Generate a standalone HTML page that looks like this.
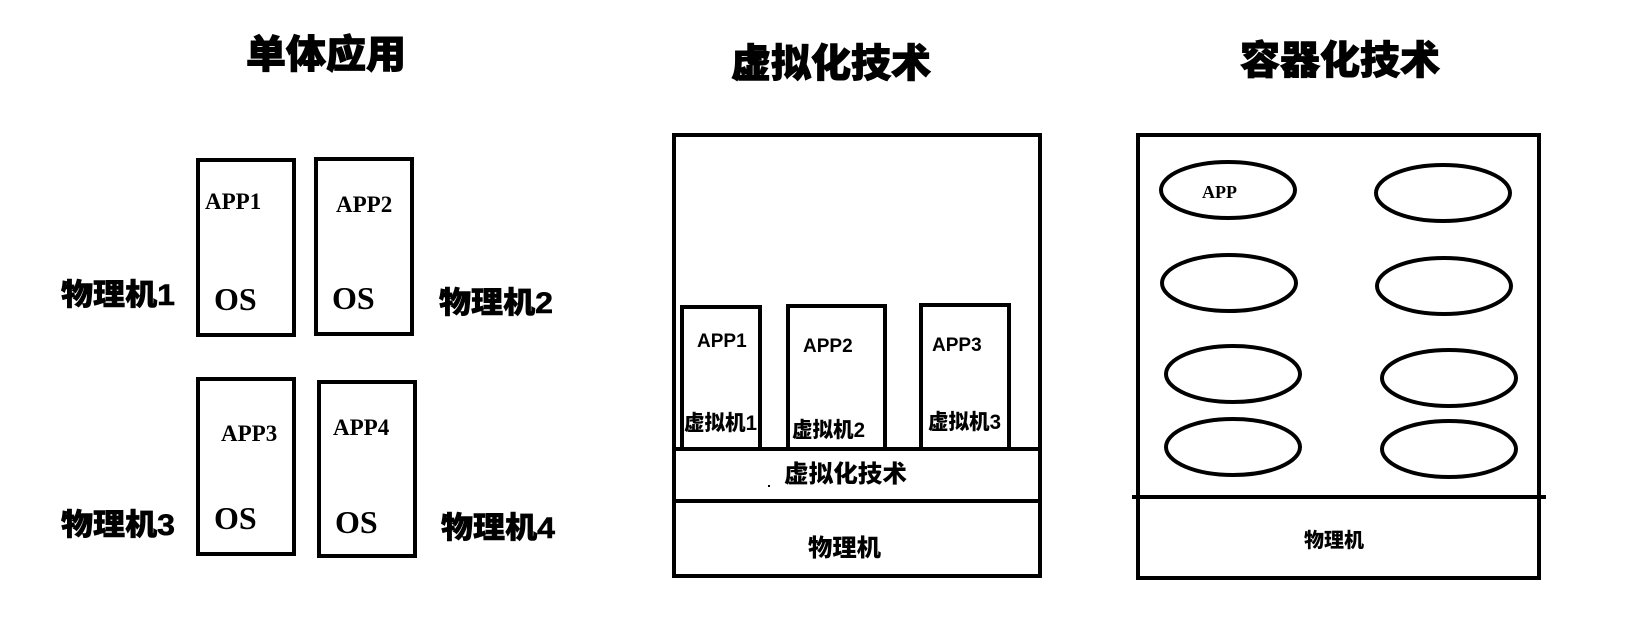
<!DOCTYPE html>
<html><head><meta charset="utf-8"><style>
html,body{margin:0;padding:0;background:#fff;}
svg{display:block;}
.t{font-family:"Liberation Sans","Noto Sans CJK SC",sans-serif;font-weight:900;}
.s{font-family:"Liberation Serif","Noto Serif CJK SC",serif;font-weight:bold;}
.c{font-family:"Liberation Sans","Noto Sans CJK SC",sans-serif;font-weight:bold;}
</style></head><body>
<svg width="1640" height="619" viewBox="0 0 1640 619" xmlns="http://www.w3.org/2000/svg">
<g fill="none" stroke="#000" stroke-width="4">
<rect x="198" y="160" width="96" height="175"/>
<rect x="316" y="159" width="96" height="175"/>
<rect x="198" y="379" width="96" height="175"/>
<rect x="319" y="382" width="96" height="174"/>
<rect x="674" y="135" width="366" height="441"/>
<line x1="672" y1="449" x2="1042" y2="449"/>
<line x1="672" y1="501" x2="1042" y2="501"/>
<rect x="682" y="307" width="78" height="142"/>
<rect x="788" y="306" width="97" height="143"/>
<rect x="921" y="305" width="88" height="144"/>
<rect x="1138" y="135" width="401" height="443"/>
<line x1="1132" y1="497" x2="1546" y2="497"/>
<ellipse cx="1228" cy="190" rx="67" ry="28"/>
<ellipse cx="1443" cy="193" rx="67" ry="28"/>
<ellipse cx="1229" cy="283" rx="67" ry="28"/>
<ellipse cx="1444" cy="286" rx="67" ry="28"/>
<ellipse cx="1233" cy="374" rx="67" ry="28"/>
<ellipse cx="1449" cy="378" rx="67" ry="28"/>
<ellipse cx="1233" cy="447" rx="67" ry="28"/>
<ellipse cx="1449" cy="449" rx="67" ry="28"/>
</g>
<g class="t" font-size="39" fill="#000" stroke="#000" stroke-width="1">
<text x="246" y="68" textLength="160" lengthAdjust="spacingAndGlyphs">单体应用</text>
<text x="731" y="77" textLength="200" lengthAdjust="spacingAndGlyphs">虚拟化技术</text>
<text x="1240" y="74" textLength="200" lengthAdjust="spacingAndGlyphs">容器化技术</text>
</g>
<g class="s" font-size="23">
<text x="205" y="209">APP1</text>
<text x="336" y="212">APP2</text>
<text x="221" y="441">APP3</text>
<text x="333" y="435">APP4</text>
</g>
<g class="s" font-size="32">
<text x="214" y="310">OS</text>
<text x="332" y="309">OS</text>
<text x="214" y="529">OS</text>
<text x="335" y="533">OS</text>
</g>
<g class="t" font-size="30" stroke="#000" stroke-width="0.6">
<text x="61" y="305" textLength="114" lengthAdjust="spacingAndGlyphs">物理机1</text>
<text x="439" y="313" textLength="114" lengthAdjust="spacingAndGlyphs">物理机2</text>
<text x="61" y="535" textLength="114" lengthAdjust="spacingAndGlyphs">物理机3</text>
<text x="441" y="538" textLength="114" lengthAdjust="spacingAndGlyphs">物理机4</text>
</g>
<g class="c" font-size="19">
<text x="697" y="347">APP1</text>
<text x="803" y="352">APP2</text>
<text x="932" y="351">APP3</text>
</g>
<g class="t" font-size="21">
<text x="684" y="430" textLength="73" lengthAdjust="spacingAndGlyphs">虚拟机1</text>
<text x="792" y="437" textLength="73" lengthAdjust="spacingAndGlyphs">虚拟机2</text>
<text x="928" y="429" textLength="73" lengthAdjust="spacingAndGlyphs">虚拟机3</text>
<text x="784" y="482" font-size="24" textLength="123" lengthAdjust="spacingAndGlyphs">虚拟化技术</text>
<text x="808" y="556" font-size="24" textLength="73" lengthAdjust="spacingAndGlyphs">物理机</text>
<text x="1304" y="547" font-size="20" textLength="60" lengthAdjust="spacingAndGlyphs">物理机</text>
</g>
<rect x="768" y="485" width="2" height="2" fill="#000"/>
<text class="s" x="1202" y="198" font-size="18">APP</text>
</svg>
</body></html>
